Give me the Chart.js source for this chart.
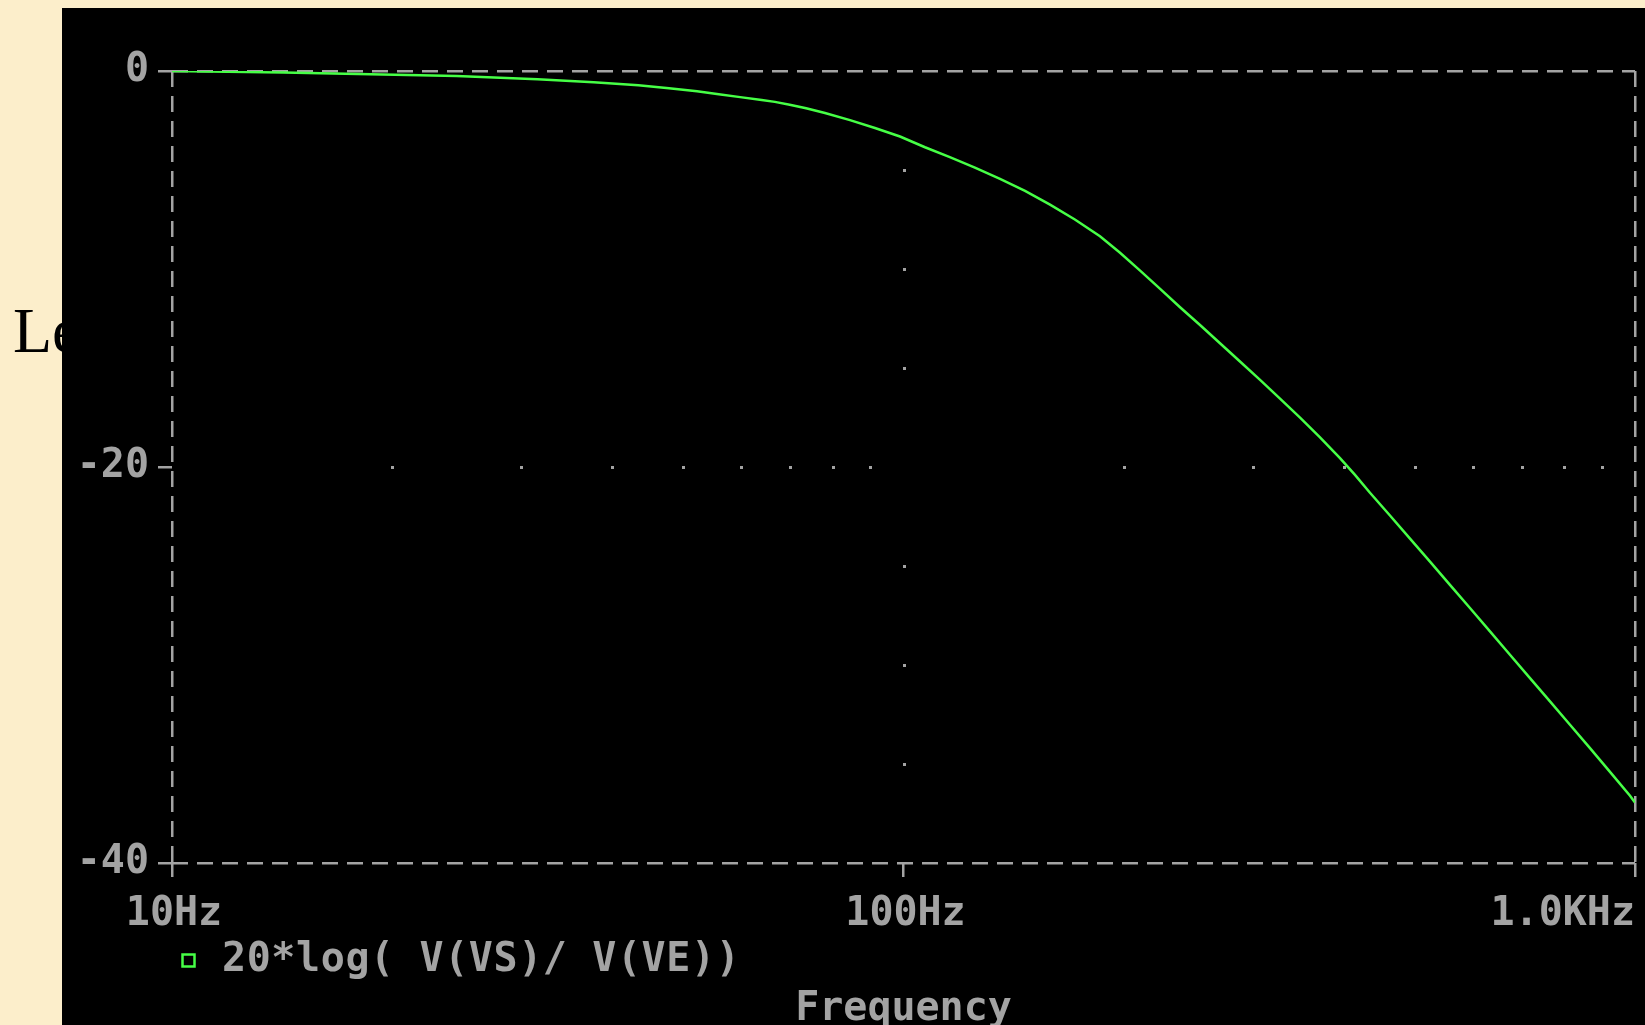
<!DOCTYPE html>
<html>
<head>
<meta charset="utf-8">
<title>20*log( V(VS)/ V(VE))</title>
<script src="https://cdn.jsdelivr.net/npm/chart.js@4.4.1/dist/chart.umd.min.js"></script>
<style>
  html, body { margin: 0; padding: 0; }
  body { width: 1645px; height: 1025px; overflow: hidden; background: #fceecb; position: relative; }
  .side-text { position: absolute; left: 13px; top: 299px; font: 64px/64px "Liberation Serif", "Times New Roman", serif; color: #000; }
  .panel { position: absolute; left: 62px; top: 8px; width: 1583px; height: 1017px; background: #000; }
  .panel canvas { display: block; }
</style>
</head>
<body>
<div class="side-text">Le</div>
<div class="panel"><canvas id="plot" width="1583" height="1017"></canvas></div>
<script>
// trace: frequency (Hz) and gain (dB)
const freqHz = [10, 14.2, 24.5, 31.6, 37.7, 43.4, 47.8, 52.2, 55.9, 59.8, 64.0, 66.7, 69.9, 73.6,
  78.1, 84.5, 91.4, 98.9, 107, 115.7, 125.2, 135.5, 146.6, 158.6, 171.5, 185.6, 197.7, 210.6,
  224.3, 238.8, 254.3, 270.8, 288.4, 307.2, 327.1, 348.4, 371, 395.1, 414.2, 434.2, 462.4,
  492.5, 524.5, 558.5, 594.8, 633.5, 674.6, 718.5, 765.2, 814.9, 867.9, 924.3, 984.4, 1000];
const gainDb = [0, -0.08, -0.25, -0.42, -0.57, -0.72, -0.87, -1.02, -1.17, -1.32, -1.46, -1.56, -1.7, -1.88,
  -2.12, -2.48, -2.88, -3.31, -3.85, -4.35, -4.88, -5.45, -6.05, -6.75, -7.5, -8.35, -9.18, -10.08,
  -11.0, -11.93, -12.83, -13.75, -14.67, -15.6, -16.55, -17.51, -18.5, -19.55, -20.4, -21.3, -22.45,
  -23.62, -24.78, -25.95, -27.12, -28.3, -29.48, -30.66, -31.84, -33.02, -34.2, -35.4, -36.6, -36.95];

const xTicks = [10, 100, 1000];
const xTickLabels = ["10Hz", "100Hz", "1.0KHz"];
const yTicks = [-40, -20, 0];
// dotted grid: minor decades along -20 dB, every 5 dB along 100Hz
const minorFreqs = [20, 30, 40, 50, 60, 70, 80, 90, 200, 300, 400, 500, 600, 700, 800, 900];
const dotLevels = [-5, -10, -15, -25, -30, -35];
const traceLabel = "20*log( V(VS)/ V(VE))";
const axisTitle = "Frequency";

const gray = "#a3a3a3";
const green = "#46ff46";
const monoFont = '"DejaVu Sans Mono", "Liberation Mono", monospace';

const probeExtras = {
  id: "probeExtras",
  beforeDatasetsDraw(chart) {
    const { ctx, scales: { x, y } } = chart;
    ctx.save();
    ctx.fillStyle = gray;
    const midY = Math.round(y.getPixelForValue(yTicks[1]));
    minorFreqs.forEach((f) => {
      ctx.fillRect(Math.round(x.getPixelForValue(f)) - 1, midY - 1, 3, 3);
    });
    const midX = Math.round(x.getPixelForValue(xTicks[1]));
    dotLevels.forEach((v) => {
      ctx.fillRect(midX - 1, Math.round(y.getPixelForValue(v)) - 1, 3, 3);
    });
    ctx.restore();
  },
  afterDraw(chart) {
    const { ctx, scales: { x } } = chart;
    ctx.save();
    ctx.font = `bold 40px ${monoFont}`;
    ctx.fillStyle = gray;
    ctx.textBaseline = "alphabetic";
    const last = xTicks.length - 1;
    xTicks.forEach((v, i) => {
      ctx.textAlign = i === last ? "right" : "center";
      const px = x.getPixelForValue(v) + (i === last ? 0 : 2);
      ctx.fillText(xTickLabels[i], px, x.top + 61.5);
    });

    // legend entry
    const ds = chart.data.datasets[0];
    ctx.strokeStyle = ds.borderColor;
    ctx.lineWidth = 2.5;
    ctx.strokeRect(x.left + 10.5, x.top + 91.5, 12, 12);
    ctx.textAlign = "left";
    ctx.letterSpacing = "0.6px";
    ctx.fillText(ds.label, x.left + 50, x.top + 108);
    ctx.restore();
  },
};

const ctx = document.getElementById("plot");

const plot = new Chart(ctx, {
  type: "scatter",
  data: {
    datasets: [
      {
        label: traceLabel,
        data: freqHz.map((f, i) => ({ x: f, y: gainDb[i] })),
        showLine: true,
        borderColor: green,
        backgroundColor: green,
        borderWidth: 2.5,
        pointRadius: 0,
        tension: 0,
      },
    ],
  },
  options: {
    responsive: false,
    animation: false,
    devicePixelRatio: 1,
    layout: { padding: { top: 63, right: 10, left: 0, bottom: 0 } },
    plugins: {
      legend: { display: false },
      tooltip: { enabled: false },
    },
    scales: {
      x: {
        type: "logarithmic",
        min: 10,
        max: 1000,
        afterBuildTicks: (s) => {
          s.ticks = xTicks.map((v) => ({ value: v }));
        },
        afterFit: (s) => {
          s.height = 162;
        },
        ticks: { display: false },
        grid: {
          color: (c) => (c.tick && c.tick.value === xTicks[1] ? "rgba(0,0,0,0)" : gray),
          lineWidth: 2.5,
          tickColor: gray,
          tickLength: 14,
          tickWidth: 2.5,
        },
        border: { display: false, dash: [16, 9] },
        title: {
          display: true,
          text: axisTitle,
          color: gray,
          font: { family: monoFont, size: 40, weight: "bold", lineHeight: 0.75 },
          padding: 0,
        },
      },
      y: {
        min: -40,
        max: 0,
        afterBuildTicks: (s) => {
          s.ticks = yTicks.map((v) => ({ value: v }));
        },
        afterFit: (s) => {
          s.width = 110;
        },
        ticks: {
          color: gray,
          padding: 9,
          font: { family: monoFont, size: 40, weight: "bold" },
        },
        grid: {
          color: (c) => (c.tick && c.tick.value === yTicks[1] ? "rgba(0,0,0,0)" : gray),
          lineWidth: 2.5,
          tickColor: gray,
          tickLength: 14,
          tickWidth: 2.5,
        },
        border: { display: false, dash: [16, 9] },
      },
    },
  },
  plugins: [probeExtras],
});
</script>
</body>
</html>
